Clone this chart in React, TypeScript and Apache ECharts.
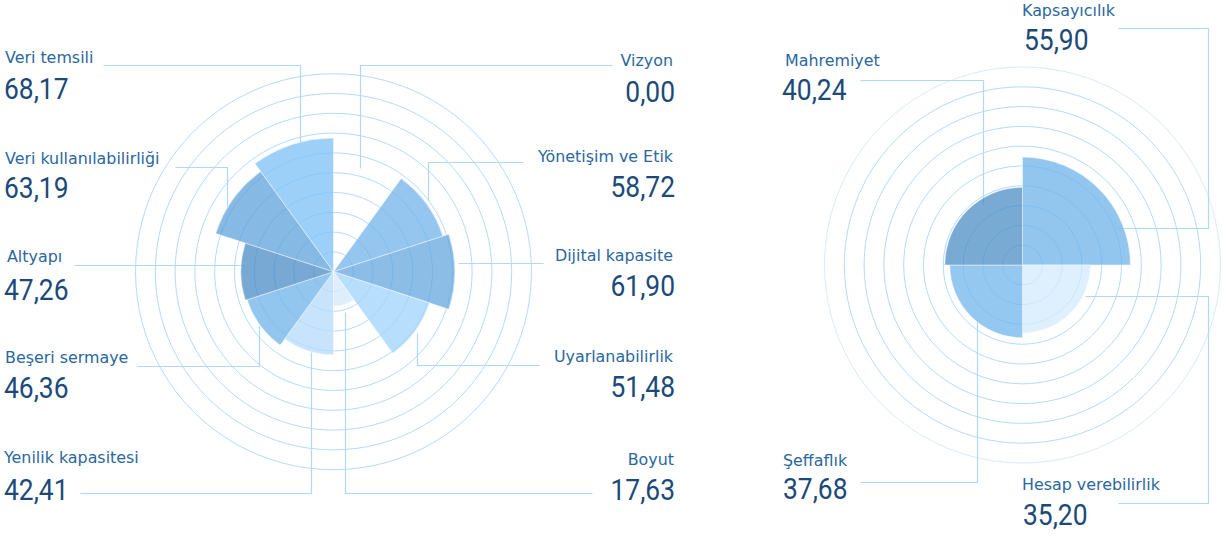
import React, { useEffect, useRef } from 'react';
import * as echarts from 'echarts';

// ---- Data ----
const leftCategories = [
  'Vizyon',
  'Yönetişim ve Etik',
  'Dijital kapasite',
  'Uyarlanabilirlik',
  'Boyut',
  'Yenilik kapasitesi',
  'Beşeri sermaye',
  'Altyapı',
  'Veri kullanılabilirliği',
  'Veri temsili',
];
const leftValues = [0.0, 58.72, 61.9, 51.48, 17.63, 42.41, 46.36, 47.26, 63.19, 68.17];

const rightCategories = ['Kapsayıcılık', 'Hesap verebilirlik', 'Şeffaflık', 'Mahremiyet'];
const rightValues = [55.9, 35.2, 37.68, 40.24];

const radiusMax = 100;
const radiusInterval = 10;

// ---- Styles / layout ----
const leftColors = ['#a9d6fb', '#72b3ea', '#64a7df', '#a0d3fc', '#d4e8fb', '#b6dbfb', '#6fb3ea', '#4a8cc6', '#5ea2da', '#7cc0f6'];
const rightColors = ['#6eb3ea', '#d3eafc', '#72b6ec', '#4b8ec6'];

const NAME_COLOR = '#2b679e';
const VALUE_COLOR = '#1b4a78';
const LINE_COLOR = '#b0d8f8';
const RING_COLOR = '#b5dbfa';

type LabelPos = { x: number; vx: number; align: 'left' | 'right'; nameY: number; valueY: number };

const leftLabelLayout: LabelPos[] = [
  { x: 673, vx: 675, align: 'right', nameY: 61, valueY: 91.5 },
  { x: 673, vx: 675, align: 'right', nameY: 157, valueY: 187 },
  { x: 673, vx: 675, align: 'right', nameY: 256, valueY: 286 },
  { x: 673, vx: 675, align: 'right', nameY: 357, valueY: 387 },
  { x: 674, vx: 675, align: 'right', nameY: 460, valueY: 490 },
  { x: 4, vx: 4, align: 'left', nameY: 458, valueY: 489.5 },
  { x: 5, vx: 4, align: 'left', nameY: 358, valueY: 388 },
  { x: 7, vx: 4, align: 'left', nameY: 257, valueY: 289.5 },
  { x: 5, vx: 4, align: 'left', nameY: 159, valueY: 188 },
  { x: 5, vx: 4, align: 'left', nameY: 58, valueY: 88.5 },
];
const rightLabelLayout: LabelPos[] = [
  { x: 1022, vx: 1024, align: 'left', nameY: 11, valueY: 39.5 },
  { x: 1022, vx: 1023, align: 'left', nameY: 485, valueY: 514.5 },
  { x: 783, vx: 783, align: 'left', nameY: 461, valueY: 489 },
  { x: 785, vx: 782, align: 'left', nameY: 61, valueY: 89.5 },
];

const leaderLines: number[][][] = [
  [[103, 65], [300, 65], [300, 142]],
  [[175, 167], [227, 167], [227, 206]],
  [[74, 265], [243, 265]],
  [[137, 366], [259, 366], [259, 326]],
  [[80, 493], [311, 493], [311, 352]],
  [[592, 493], [345, 493], [345, 312]],
  [[612, 65], [360, 65], [360, 168]],
  [[523, 162], [428, 162], [428, 200]],
  [[543, 263], [458, 263]],
  [[540, 365], [417, 365], [417, 333]],
  [[1118, 28], [1208, 28], [1208, 228], [1117, 228]],
  [[860, 80], [983, 80], [983, 205]],
  [[1118, 503], [1208, 503], [1208, 296], [1085, 296]],
  [[860, 482], [977, 482], [977, 320]],
];

const LEFT_CENTER = [333.5, 271.7];
const RIGHT_CENTER = [1022.5, 265];

const fmt = (v: number) => v.toFixed(2).replace('.', ',');

function labelGraphics(cats: string[], vals: number[], layout: LabelPos[]) {
  const out: any[] = [];
  cats.forEach((c, i) => {
    const p = layout[i];
    out.push({
      type: 'text',
      x: p.x,
      y: p.nameY,
      scaleX: 1.06,
      z: 10,
      style: {
        text: c,
        font: '15px "DejaVu Sans", sans-serif',
        fill: NAME_COLOR,
        align: p.align,
        verticalAlign: 'middle',
      },
    });
    out.push({
      type: 'text',
      x: p.vx,
      y: p.valueY,
      scaleX: 0.88,
      z: 10,
      style: {
        text: fmt(vals[i]),
        font: '30px Roboto, sans-serif',
        fill: VALUE_COLOR,
        align: p.align,
        verticalAlign: 'middle',
      },
    });
  });
  return out;
}

function ringColors(n: number, lastLighter: boolean) {
  const arr: string[] = [];
  for (let i = 0; i < n; i++) arr.push(RING_COLOR);
  if (lastLighter) arr[n - 1] = '#d9ebfc';
  return arr;
}

export default function App() {
  const ref = useRef<HTMLDivElement>(null);

  useEffect(() => {
    if (!ref.current) return;
    const chart = echarts.init(ref.current, null, { renderer: 'svg' });

    const ringRadiusAxis = (polarIndex: number, lastLighter: boolean) => ({
      polarIndex,
      type: 'value',
      min: 0,
      max: radiusMax,
      interval: radiusInterval,
      axisLine: { show: false },
      axisTick: { show: false },
      axisLabel: { show: false },
      splitLine: {
        show: true,
        lineStyle: { color: ringColors(radiusMax / radiusInterval + 1, lastLighter), width: 1 },
      },
    });
    const hiddenValueAngle = (polarIndex: number) => ({
      polarIndex,
      type: 'value',
      min: 0,
      max: 360,
      show: false,
    });
    const catAngle = (polarIndex: number, data: string[]) => ({
      polarIndex,
      type: 'category',
      data,
      startAngle: 90,
      clockwise: true,
      show: false,
    });
    const barRadius = (polarIndex: number) => ({
      polarIndex,
      type: 'value',
      min: 0,
      max: radiusMax,
      show: false,
    });

    const option: any = {
      animation: false,
      backgroundColor: '#ffffff',
      polar: [
        { center: LEFT_CENTER, radius: 198 },
        { center: LEFT_CENTER, radius: 196 },
        { center: RIGHT_CENTER, radius: 198 },
        { center: RIGHT_CENTER, radius: 193 },
      ],
      angleAxis: [
        hiddenValueAngle(0),
        catAngle(1, leftCategories),
        hiddenValueAngle(2),
        catAngle(3, rightCategories),
      ],
      radiusAxis: [ringRadiusAxis(0, false), barRadius(1), ringRadiusAxis(2, true), barRadius(3)],
      series: [
        {
          type: 'bar',
          coordinateSystem: 'polar',
          polarIndex: 1,
          barCategoryGap: '0%',
          data: leftValues.map((v, i) => ({
            value: v,
            itemStyle: { color: leftColors[i] },
          })),
          itemStyle: { opacity: 0.75, borderColor: 'rgba(255,255,255,0.6)', borderWidth: 1 },
          emphasis: { disabled: true },
          z: 3,
        },
        {
          type: 'bar',
          coordinateSystem: 'polar',
          polarIndex: 3,
          barCategoryGap: '0%',
          data: rightValues.map((v, i) => ({
            value: v,
            itemStyle: { color: rightColors[i] },
          })),
          itemStyle: { opacity: 0.75, borderColor: 'rgba(255,255,255,0.6)', borderWidth: 1 },
          emphasis: { disabled: true },
          z: 3,
        },
      ],
      graphic: [
        ...leaderLines.map((pts) => ({
          type: 'polyline',
          z: 1,
          shape: { points: pts.map(([x, y]) => [x + 0.5, y + 0.5]) },
          style: { stroke: LINE_COLOR, lineWidth: 1.2, fill: null },
        })),
        ...labelGraphics(leftCategories, leftValues, leftLabelLayout),
        ...labelGraphics(rightCategories, rightValues, rightLabelLayout),
      ],
    };

    chart.setOption(option);
    return () => chart.dispose();
  }, []);

  return (
    <div
      ref={ref}
      style={{ position: 'absolute', left: 0, top: 0, width: 1223, height: 535, background: '#fff' }}
    />
  );
}
